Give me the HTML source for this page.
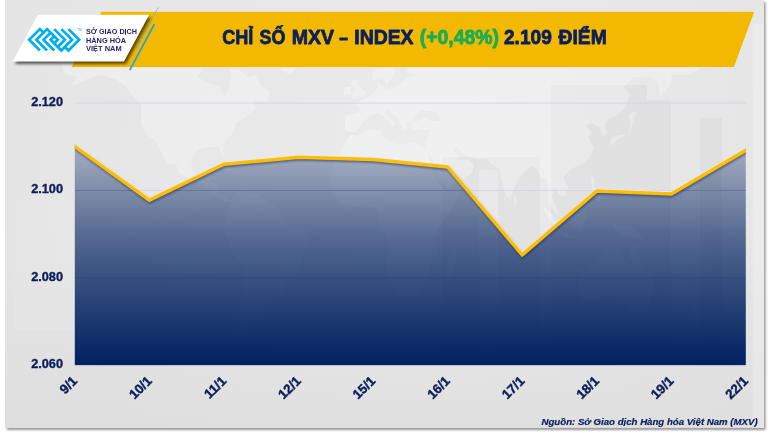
<!DOCTYPE html>
<html lang="vi">
<head>
<meta charset="utf-8">
<title>Chỉ số MXV – Index</title>
<style>
  html, body { margin: 0; padding: 0; background: #ffffff; }
  body { width: 770px; height: 433px; overflow: hidden; position: relative; }
  svg { display: block; position: absolute; left: 0; top: 0; will-change: transform; }
  text { font-family: "Liberation Sans", sans-serif; }
</style>
</head>
<body>
<svg width="770" height="433" viewBox="0 0 770 433">
  <defs>
    <radialGradient id="bg" cx="430" cy="150" r="430" gradientUnits="userSpaceOnUse">
      <stop offset="0" stop-color="#ebebeb"/>
      <stop offset="0.45" stop-color="#e8e8e8"/>
      <stop offset="0.8" stop-color="#e6e6e6"/>
      <stop offset="1" stop-color="#e5e5e5"/>
    </radialGradient>
    <linearGradient id="bgdark" x1="0" y1="0" x2="0" y2="1">
      <stop offset="0" stop-color="#000" stop-opacity="0"/>
      <stop offset="0.6" stop-color="#000" stop-opacity="0"/>
      <stop offset="1" stop-color="#000" stop-opacity="0.03"/>
    </linearGradient>
    <linearGradient id="area" x1="0" y1="147" x2="0" y2="365" gradientUnits="userSpaceOnUse">
      <stop offset="0" stop-color="#002060" stop-opacity="0.283"/>
      <stop offset="0.4266" stop-color="#002060" stop-opacity="0.647"/>
      <stop offset="1" stop-color="#002060" stop-opacity="1"/>
    </linearGradient>
    <filter id="cardsh" x="-5%" y="-5%" width="110%" height="110%">
      <feGaussianBlur stdDeviation="1"/>
    </filter>
    <filter id="logosh" x="-20%" y="-40%" width="140%" height="180%">
      <feGaussianBlur stdDeviation="1.6"/>
    </filter>
    <clipPath id="cardclip"><rect x="5" y="0" width="759" height="428"/></clipPath>
    <clipPath id="areaclip"><path d="M74.8,146.4 L149.4,200.2 L223.9,164.2 L298.5,157.3 L373.0,159.6 L447.6,166.9 L522.2,254.9 L596.7,191.1 L671.3,194.0 L745.8,150.2 L745.8,365 L74.8,365 Z"/></clipPath>
    <clipPath id="plotclip"><rect x="74.8" y="90" width="671" height="280"/></clipPath>
    <filter id="linesh" x="-5%" y="-20%" width="110%" height="140%">
      <feGaussianBlur stdDeviation="0.9"/>
    </filter>
  </defs>

  <!-- card shadow + card -->
  <rect x="7" y="2" width="758.6" height="428" fill="#989898" filter="url(#cardsh)"/>
  <rect x="5" y="0" width="759" height="428" fill="url(#bg)"/>
  <rect x="5" y="0" width="759" height="428" fill="url(#bgdark)"/>



  <!-- faint decorative bars -->
  <g fill="#000000" fill-opacity="0.028">
    <rect x="551" y="85" width="96" height="280"/>
    <rect x="442" y="157" width="98" height="208"/>
    <rect x="647" y="100" width="24" height="265"/>
    <rect x="700" y="118" width="22" height="247"/>
  </g>
  <g fill="#ffffff" fill-opacity="0.22">
    <rect x="14" y="198" width="61" height="132" fill-opacity="0.07"/>
    <rect x="752.5" y="24" width="11.5" height="404"/>
    <rect x="479" y="170" width="19" height="195"/>
  </g>

  <!-- faint world map -->
  <g clip-path="url(#cardclip)">
    <path id="worldmap" fill="#ffffff" fill-opacity="0.28" d="M58,61 L69,51 L92,49 L111,51 L134,51 L158,53 L187,56 L196,46 L210,51 L216,58 L202,68 L198,77 L206,82 L219,87 L225,97 L229,87 L231,75 L229,68 L240,70 L248,77 L255,75 L261,85 L271,92 L267,101 L254,101 L255,109 L250,113 L244,118 L236,123 L233,133 L225,142 L223,152 L225,159 L221,154 L219,147 L210,147 L200,149 L193,154 L191,166 L196,176 L204,173 L212,169 L210,181 L217,183 L219,195 L227,197 L231,200 L225,202 L216,195 L204,185 L195,181 L179,173 L176,164 L168,164 L162,154 L158,145 L155,140 L147,135 L141,123 L141,104 L134,97 L126,87 L117,80 L102,75 L92,77 L81,82 L69,87 L77,77 L64,73 L62,65Z M290,75 L297,68 L309,61 L331,53 L339,41 L335,29 L316,20 L286,22 L259,25 L244,34 L263,39 L272,51 L278,61 L282,70Z M231,200 L240,190 L250,193 L259,195 L267,202 L278,207 L282,219 L293,224 L307,231 L310,238 L303,253 L301,267 L295,274 L286,281 L282,293 L272,303 L267,310 L257,317 L252,329 L248,344 L240,349 L234,339 L238,320 L238,305 L242,291 L244,267 L234,255 L227,238 L223,229 L227,214Z M345,130 L345,116 L358,113 L360,109 L354,104 L360,101 L368,97 L377,89 L377,82 L383,85 L385,89 L396,87 L402,82 L408,77 L419,75 L408,73 L404,63 L396,68 L394,75 L387,85 L383,77 L373,80 L372,73 L381,65 L389,56 L400,51 L415,49 L423,53 L440,58 L438,65 L430,65 L446,61 L449,56 L466,53 L478,53 L491,53 L489,46 L501,46 L514,44 L529,37 L552,34 L563,32 L575,41 L590,44 L609,49 L628,44 L647,49 L666,51 L685,51 L704,56 L704,63 L698,70 L685,75 L672,75 L670,85 L660,97 L658,82 L651,77 L634,77 L624,87 L630,94 L626,106 L617,116 L609,118 L605,125 L607,133 L603,137 L600,128 L592,123 L586,125 L592,133 L588,137 L594,147 L590,157 L582,164 L571,169 L567,173 L563,178 L569,188 L565,195 L562,197 L554,188 L552,197 L558,212 L560,217 L554,212 L548,200 L548,185 L546,178 L541,178 L537,169 L531,166 L525,171 L518,181 L514,188 L510,200 L506,195 L501,178 L499,169 L491,164 L487,159 L478,159 L470,157 L463,154 L457,147 L453,149 L459,157 L461,161 L468,159 L474,164 L472,173 L466,178 L457,183 L448,188 L444,185 L442,178 L436,166 L430,154 L427,152 L425,145 L428,135 L430,130 L421,130 L413,130 L411,123 L417,121 L425,118 L432,121 L440,121 L436,113 L432,111 L425,111 L421,109 L415,116 L411,121 L406,123 L408,128 L404,130 L400,123 L398,118 L390,113 L387,109 L385,113 L389,118 L394,121 L396,123 L392,128 L390,123 L383,116 L377,113 L370,116 L368,118 L362,123 L360,128 L352,133Z M351,135 L358,135 L368,130 L381,130 L383,137 L390,142 L400,145 L410,142 L421,145 L427,149 L430,164 L434,176 L444,190 L449,193 L459,190 L453,207 L444,221 L438,229 L436,238 L438,253 L430,265 L428,277 L425,284 L419,293 L411,301 L400,303 L396,298 L392,286 L387,272 L385,257 L389,245 L385,231 L379,221 L379,209 L372,207 L364,205 L354,207 L347,209 L339,202 L334,193 L330,183 L332,171 L334,159 L341,152 L345,142Z M579,272 L592,265 L601,253 L609,248 L620,248 L620,255 L628,260 L632,245 L638,255 L645,269 L653,281 L653,293 L647,308 L639,313 L630,310 L624,303 L618,303 L611,296 L600,298 L588,301 L580,301 L579,286Z M609,145 L613,137 L620,135 L628,135 L630,128 L630,121 L628,116 L632,111 L638,113 L634,118 L632,125 L630,133 L622,137 L617,140 L611,145Z M352,99 L364,97 L366,92 L362,89 L358,85 L358,80 L352,80 L351,85 L356,89 L352,94Z M343,94 L351,94 L351,87 L345,87Z M331,63 L335,65 L348,65 L350,61 L339,61Z M446,279 L451,279 L457,257 L455,248 L449,257 L446,265Z M569,217 L571,226 L582,229 L586,217 L586,207 L582,202 L575,212Z M542,207 L548,209 L560,226 L563,233 L556,229 L548,217Z M563,233 L573,236 L580,238 L567,238Z M611,221 L618,226 L630,226 L639,233 L647,243 L636,238 L630,241 L624,238 L615,229Z M590,176 L594,178 L594,188 L600,195 L601,202 L596,200 L592,188Z M514,195 L518,202 L514,205Z M691,303 L700,310 L694,317 L689,325 L681,329 L679,327 L687,320 L693,315Z M216,166 L225,164 L234,171 L229,171Z"/>
  </g>

  <!-- gridlines -->
  <g stroke="#d3d5e2" stroke-width="1">
    <line x1="75" y1="103.1" x2="746" y2="103.1"/>
    <line x1="75" y1="190.5" x2="746" y2="190.5"/>
    <line x1="75" y1="277.8" x2="746" y2="277.8"/>
  </g>

  <!-- area -->
  <path d="M74.8,146.4 L149.4,200.2 L223.9,164.2 L298.5,157.3 L373.0,159.6 L447.6,166.9 L522.2,254.9 L596.7,191.1 L671.3,194.0 L745.8,150.2 L745.8,365 L74.8,365 Z" fill="url(#area)"/>
  <g stroke="#1b2f66" stroke-opacity="0.17" stroke-width="1" clip-path="url(#areaclip)">
    <line x1="75" y1="190.5" x2="746" y2="190.5"/>
    <line x1="75" y1="277.8" x2="746" y2="277.8"/>
  </g>
  <line x1="75" y1="365.7" x2="746" y2="365.7" stroke="#c3c7de" stroke-width="1.2"/>
  <!-- line shadow, highlight, line -->
  <g clip-path="url(#plotclip)">
  <path d="M59.8,135.6 L149.4,200.2 L223.9,164.2 L298.5,157.3 L373.0,159.6 L447.6,166.9 L522.2,254.9 L596.7,191.1 L671.3,194.0 L760.8,141.4" fill="none" stroke="#1d2c5e" stroke-opacity="0.6" stroke-width="3.5" transform="translate(0.6,1.5)" filter="url(#linesh)"/>
  <path d="M59.8,135.6 L149.4,200.2 L223.9,164.2 L298.5,157.3 L373.0,159.6 L447.6,166.9 L522.2,254.9 L596.7,191.1 L671.3,194.0 L760.8,141.4" fill="none" stroke="#e8eaf8" stroke-width="3.5" transform="translate(0,-0.9)"/>
  <path d="M59.8,135.6 L149.4,200.2 L223.9,164.2 L298.5,157.3 L373.0,159.6 L447.6,166.9 L522.2,254.9 L596.7,191.1 L671.3,194.0 L760.8,141.4" fill="none" stroke="#fdbf05" stroke-width="3.5" stroke-linejoin="miter"/>
  </g>

  <!-- y labels -->
  <g font-weight="bold" font-size="12.1" fill="#0c1d5a" stroke="#0c1d5a" stroke-width="0.35">
    <text x="31.2" y="106.2" textLength="31.8" lengthAdjust="spacingAndGlyphs">2.120</text>
    <text x="31.2" y="193.3" textLength="31.8" lengthAdjust="spacingAndGlyphs">2.100</text>
    <text x="31.2" y="280.6" textLength="31.8" lengthAdjust="spacingAndGlyphs">2.080</text>
    <text x="31.2" y="367.8" textLength="31.8" lengthAdjust="spacingAndGlyphs">2.060</text>
  </g>

  <!-- x labels -->
  <g font-weight="bold" font-size="12.3" fill="#0c1d5a" stroke="#0c1d5a" stroke-width="0.4" text-anchor="end" style="font-size:13.2px">
    <text transform="translate(78.0,381.7) rotate(-45)">9/1</text>
    <text transform="translate(152.6,381.7) rotate(-45)">10/1</text>
    <text transform="translate(227.1,381.7) rotate(-45)">11/1</text>
    <text transform="translate(301.7,381.7) rotate(-45)">12/1</text>
    <text transform="translate(376.2,381.7) rotate(-45)">15/1</text>
    <text transform="translate(450.8,381.7) rotate(-45)">16/1</text>
    <text transform="translate(525.4,381.7) rotate(-45)">17/1</text>
    <text transform="translate(599.9,381.7) rotate(-45)">18/1</text>
    <text transform="translate(674.5,381.7) rotate(-45)">19/1</text>
    <text transform="translate(749.0,381.7) rotate(-45)">22/1</text>
  </g>

  <!-- source -->
  <text x="541.5" y="424.8" font-weight="bold" font-style="italic" font-size="9.6" fill="#0c1d5a" stroke="#0c1d5a" stroke-width="0.2" textLength="216.2" lengthAdjust="spacingAndGlyphs">Nguồn: Sở Giao dịch Hàng hóa Việt Nam (MXV)</text>

  <!-- yellow banner -->
  <polygon points="101,11.3 754.9,11.3 734.2,67.5 70.9,67.5" fill="#f3b900" stroke="#e9ebf5" stroke-width="0.9" stroke-opacity="0.9"/>

  <!-- blue accent lines -->
  <line x1="158.2" y1="7.4" x2="136" y2="48.5" stroke="#5bb6e0" stroke-width="0.7"/>
  <line x1="154.4" y1="24.2" x2="129.8" y2="70.1" stroke="#18a4e6" stroke-width="1.7"/>

  <!-- logo plate shadow + plate -->
  <polygon points="39.7,17.5 151.2,17.5 126,64.1 14.7,64.1" fill="#000000" fill-opacity="0.62" filter="url(#logosh)"/>
  <polygon points="37.7,14.8 149.2,14.8 124,61.4 12.7,61.4" fill="#ffffff"/>

  <!-- logo mark -->
  <g transform="translate(29.2,39.8) scale(3.57)" fill="none" stroke="#00aeef" stroke-width="0.76" stroke-linejoin="miter" stroke-linecap="butt">
    <path d="M3,3 L0,0 L3,-3 L4,-2"/>
    <path d="M5,3 L2,0 L5,-3 L8,0 L7,1"/>
    <path d="M7,3 L4,0 L6,-2"/>
    <path d="M7,-3 L10,0 L8,2"/>
    <path d="M9,-3 L12,0 L9,3 L6,0 L7,-1"/>
    <path d="M11,-3 L14,0 L11,3 L10,2"/>
  </g>
  <text x="77.4" y="31.3" font-size="3" font-weight="bold" fill="#5fc3ee" textLength="4.2" lengthAdjust="spacingAndGlyphs">TM</text>

  <!-- wordmark -->
  <g font-weight="bold" font-size="7.3" fill="#2a2363">
    <text x="86" y="34.4" textLength="51" lengthAdjust="spacingAndGlyphs">SỞ GIAO DỊCH</text>
    <text x="86" y="42.7" textLength="40" lengthAdjust="spacingAndGlyphs">HÀNG HÓA</text>
    <text x="86" y="51" textLength="35.7" lengthAdjust="spacingAndGlyphs">VIỆT NAM</text>
  </g>

  <!-- title -->
  <g font-weight="bold" font-size="20" fill="#0b1f5c" stroke="#0b1f5c" stroke-width="0.8" stroke-linejoin="round">
    <text x="222.2" y="44.2" textLength="31.2" lengthAdjust="spacingAndGlyphs">CHỈ</text>
    <text x="259.6" y="44.2" textLength="25.8" lengthAdjust="spacingAndGlyphs">SỐ</text>
    <text x="291.8" y="44.2" textLength="42.3" lengthAdjust="spacingAndGlyphs">MXV</text>
    <text x="339.3" y="44.2" textLength="8.8" lengthAdjust="spacingAndGlyphs">–</text>
    <text x="354.3" y="44.2" textLength="59.2" lengthAdjust="spacingAndGlyphs">INDEX</text>
    <text x="419.7" y="44.2" textLength="79.4" lengthAdjust="spacingAndGlyphs" fill="#19ad55" stroke="#19ad55">(+0,48%)</text>
    <text x="504" y="44.2" textLength="47.8" lengthAdjust="spacingAndGlyphs">2.109</text>
    <text x="558.6" y="44.2" textLength="48.2" lengthAdjust="spacingAndGlyphs">ĐIỂM</text>
  </g>
</svg>
</body>
</html>
